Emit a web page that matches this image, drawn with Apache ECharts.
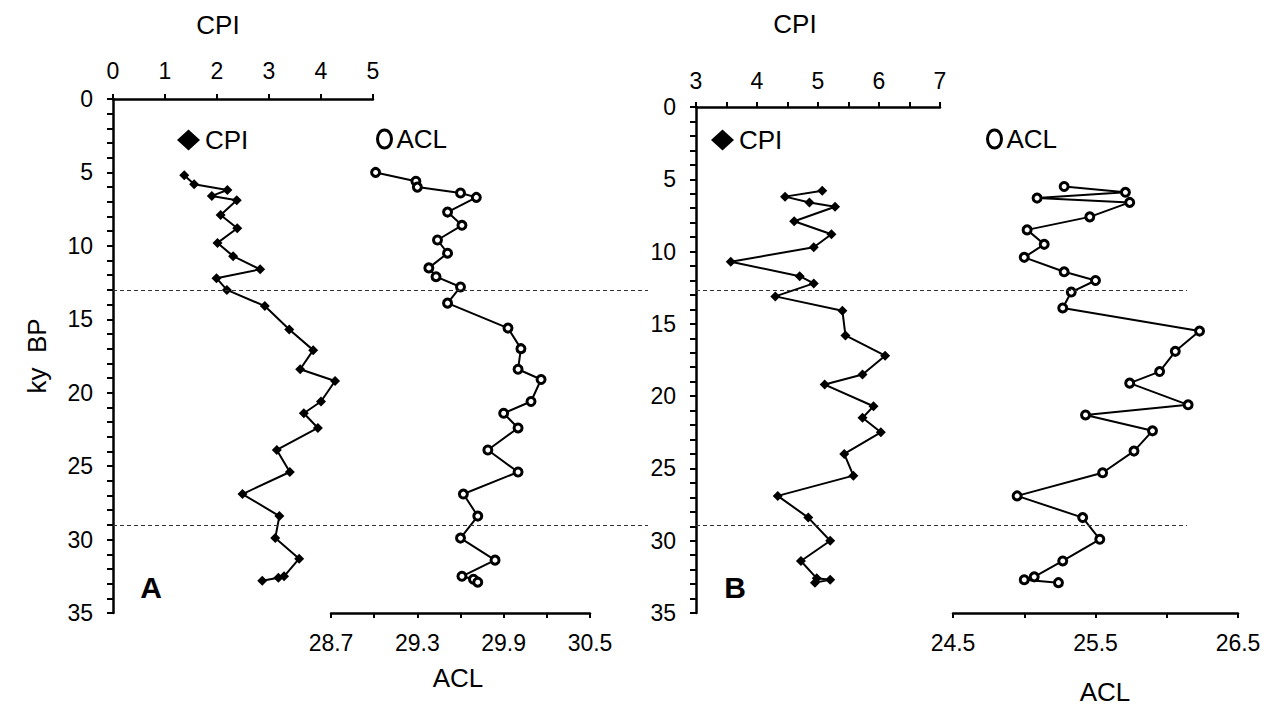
<!DOCTYPE html>
<html>
<head>
<meta charset="utf-8">
<title>CPI and ACL vs age</title>
<script src="https://cdn.jsdelivr.net/npm/echarts@6/dist/echarts.min.js"></script>
<style>
  html, body { margin: 0; padding: 0; background: #fff; }
  #chart { width: 1268px; height: 710px; }
</style>
</head>
<body>
<div id="chart"></div>
<script>
// panel A (ky BP depth, CPI and ACL)
const aCpiDepth = [5.2, 5.8, 6.2, 6.6, 6.9, 7.9, 8.8, 9.8, 10.7, 11.6, 12.2, 13.0, 14.1, 15.7, 17.1, 18.4, 19.2, 20.6, 21.4, 22.4, 23.9, 25.4, 26.9, 28.4, 29.9, 31.3, 32.5, 32.6, 32.8];
const aCpi = [1.37, 1.56, 2.20, 1.90, 2.38, 2.07, 2.39, 2.01, 2.31, 2.83, 1.99, 2.19, 2.92, 3.39, 3.85, 3.60, 4.27, 4.00, 3.67, 3.94, 3.15, 3.40, 2.49, 3.20, 3.12, 3.58, 3.29, 3.18, 2.87];
const aAclDepth = [5.0, 5.6, 6.0, 6.4, 6.7, 7.7, 8.6, 9.6, 10.5, 11.5, 12.1, 12.8, 13.9, 15.6, 17.0, 18.4, 19.1, 20.6, 21.4, 22.4, 23.9, 25.4, 26.9, 28.4, 29.9, 31.4, 32.5, 32.7, 32.9];
const aAcl = [29.01, 29.29, 29.30, 29.60, 29.71, 29.51, 29.61, 29.44, 29.51, 29.38, 29.43, 29.60, 29.51, 29.93, 30.02, 30.00, 30.16, 30.09, 29.90, 30.00, 29.79, 30.00, 29.62, 29.72, 29.60, 29.84, 29.61, 29.69, 29.72];

// panel B
const bCpiDepth = [5.8, 6.2, 6.6, 6.9, 7.9, 8.8, 9.7, 10.7, 11.7, 12.2, 13.1, 14.1, 15.8, 17.2, 18.5, 19.2, 20.7, 21.5, 22.5, 24.0, 25.5, 26.9, 28.4, 30.0, 31.4, 32.6, 32.7, 32.9];
const bCpi = [5.07, 4.46, 4.86, 5.28, 4.61, 5.22, 4.93, 3.57, 4.70, 4.93, 4.30, 5.40, 5.45, 6.10, 5.73, 5.11, 5.91, 5.73, 6.03, 5.43, 5.58, 4.34, 4.84, 5.20, 4.72, 4.98, 5.20, 4.95];
const bAclDepth = [5.5, 5.9, 6.3, 6.6, 7.6, 8.5, 9.5, 10.4, 11.4, 12.0, 12.8, 13.9, 15.5, 16.9, 18.3, 19.1, 20.6, 21.3, 22.4, 23.8, 25.3, 26.9, 28.4, 29.9, 31.4, 32.5, 32.7, 32.9];
const bAcl = [25.28, 25.71, 25.09, 25.74, 25.46, 25.02, 25.14, 25.00, 25.28, 25.50, 25.33, 25.27, 26.23, 26.06, 25.95, 25.74, 26.15, 25.43, 25.90, 25.77, 25.55, 24.95, 25.41, 25.53, 25.27, 25.07, 25.00, 25.24];

// boundaries (ky BP) and axis ticks
const boundaries = [13, 29];
const aAclTicks = [28.7, 29.0, 29.3, 29.6, 29.9, 30.2, 30.5];
const aAclLabels = [28.7, 29.3, 29.9, 30.5];

const FONT = '"Liberation Sans", Arial, sans-serif';
const OVAL = 'path://M7,0 C10.9,0 14,4 14,9 C14,14 10.9,18 7,18 C3.1,18 0,14 0,9 C0,4 3.1,0 7,0 Z';

function pairs( xs, ys )
{
  return xs.map( ( x, i ) => [ x, ys[ i ] ] );
}

function depthAxis( idx, show )
{
  return {
    gridIndex: idx, type: 'value', inverse: true, min: 0, max: 35, interval: 1,
    show: show,
    axisLine: { onZero: false, lineStyle: { color: '#000', width: 2.5 } },
    axisTick: { length: 6, lineStyle: { color: '#000', width: 2 } },
    axisLabel: {
      margin: 20, fontSize: 23, fontFamily: FONT, color: '#000',
      formatter: v => ( v % 5 === 0 ? String( v ) : '' )
    },
    splitLine: { show: false }
  };
}

const axisBase = {
  type: 'value',
  axisLine: { onZero: false, lineStyle: { color: '#000', width: 2.5 } },
  axisTick: { length: 5, lineStyle: { color: '#000', width: 2 } },
  splitLine: { show: false }
};
const labelBase = { fontSize: 23, fontFamily: FONT, color: '#000' };

let cpiStyle = {
  type: 'line', name: 'CPI', symbol: 'diamond', symbolSize: 10,
  lineStyle: { color: '#000', width: 2 }, itemStyle: { color: '#000' }
};
let aclStyle = {
  type: 'line', name: 'ACL', symbol: 'circle', symbolSize: 8,
  lineStyle: { color: '#000', width: 2 },
  itemStyle: { color: '#fff', borderColor: '#000', borderWidth: 3 }
};
let dashStyle = {
  type: 'line', data: [], silent: true,
  markLine: {
    symbol: 'none', silent: true, label: { show: false },
    lineStyle: { color: '#333', width: 1, type: [ 4, 3 ] },
    data: boundaries.map( b => ( { yAxis: b } ) )
  }
};

function legend( name, left, icon, w, h, top )
{
  return {
    data: [ name ], left: left, top: top, padding: 0, selectedMode: false,
    icon: icon, itemWidth: w, itemHeight: h, itemGap: 5,
    itemStyle: icon === OVAL ? { borderWidth: 3 } : {},
    textStyle: { fontSize: 26, fontFamily: FONT, color: '#000' }
  };
}

function label( text, x, y, font )
{
  return {
    type: 'text', x: x, y: y,
    style: { text: text, font: font || ( '26px ' + FONT ), fill: '#000', align: 'center', verticalAlign: 'middle' }
  };
}

let myChart = echarts.init( document.getElementById( 'chart' ), null, { renderer: 'svg' } );
let option = {
  animation: false,
  backgroundColor: '#fff',
  grid: [
    { left: 113, top: 99, width: 535, height: 514, outerBoundsMode: 'none' },
    { left: 113, top: 99, width: 260, height: 514, outerBoundsMode: 'none' },
    { left: 331, top: 99, width: 259, height: 514, outerBoundsMode: 'none' },
    { left: 696, top: 99, width: 491, height: 514, outerBoundsMode: 'none' },
    { left: 696, top: 107, width: 244, height: 506, outerBoundsMode: 'none' },
    { left: 953, top: 107, width: 285, height: 506, outerBoundsMode: 'none' }
  ],
  xAxis: [
    Object.assign( {}, axisBase, { gridIndex: 0, min: 0, max: 1, show: false } ),
    Object.assign( {}, axisBase, {
      gridIndex: 1, position: 'top', min: 0, max: 5, interval: 1,
      axisLabel: Object.assign( { margin: 17 }, labelBase )
    } ),
    Object.assign( {}, axisBase, {
      gridIndex: 2, position: 'bottom', min: 28.7, max: 30.5,
      axisTick: { length: 5, lineStyle: { color: '#000', width: 2 }, customValues: aAclTicks },
      axisLabel: Object.assign( { margin: 18, customValues: aAclLabels, formatter: v => v.toFixed( 1 ) }, labelBase )
    } ),
    Object.assign( {}, axisBase, { gridIndex: 3, min: 0, max: 1, show: false } ),
    Object.assign( {}, axisBase, {
      gridIndex: 4, position: 'top', min: 3, max: 7, interval: 0.5,
      axisLabel: Object.assign( { margin: 15, formatter: v => ( v % 1 === 0 ? String( v ) : '' ) }, labelBase )
    } ),
    Object.assign( {}, axisBase, {
      gridIndex: 5, position: 'bottom', min: 24.5, max: 26.5, interval: 0.5,
      axisLabel: Object.assign( {
        margin: 18,
        formatter: v => ( Math.abs( v - Math.floor( v ) - 0.5 ) < 1e-6 ? v.toFixed( 1 ) : '' )
      }, labelBase )
    } )
  ],
  yAxis: [
    depthAxis( 0, false ),
    Object.assign( depthAxis( 1, true ), {
      name: 'ky  BP', nameLocation: 'middle', nameGap: 63, nameRotate: 90,
      nameTextStyle: { fontSize: 26, fontFamily: FONT, color: '#000' }
    } ),
    depthAxis( 2, false ),
    depthAxis( 3, false ),
    depthAxis( 4, true ),
    depthAxis( 5, false )
  ],
  legend: [
    legend( 'CPI', 177, 'diamond', 23, 21, 127 ),
    legend( 'ACL', 376, OVAL, 14, 18, 126 ),
    legend( 'CPI', 711, 'diamond', 23, 21, 127 ),
    legend( 'ACL', 986, OVAL, 14, 18, 126 )
  ],
  graphic: [
    label( 'CPI', 218, 25 ),
    label( 'ACL', 458, 678 ),
    label( 'CPI', 795, 24 ),
    label( 'ACL', 1105, 692 ),
    label( 'A', 151, 587, 'bold 30px ' + FONT ),
    label( 'B', 735, 587, 'bold 30px ' + FONT )
  ],
  series: [
    Object.assign( {}, dashStyle, { xAxisIndex: 0, yAxisIndex: 0 } ),
    Object.assign( {}, cpiStyle, { xAxisIndex: 1, yAxisIndex: 1, data: pairs( aCpi, aCpiDepth ) } ),
    Object.assign( {}, aclStyle, { xAxisIndex: 2, yAxisIndex: 2, data: pairs( aAcl, aAclDepth ) } ),
    Object.assign( {}, dashStyle, { xAxisIndex: 3, yAxisIndex: 3 } ),
    Object.assign( {}, cpiStyle, { xAxisIndex: 4, yAxisIndex: 4, data: pairs( bCpi, bCpiDepth ) } ),
    Object.assign( {}, aclStyle, { xAxisIndex: 5, yAxisIndex: 5, data: pairs( bAcl, bAclDepth ) } )
  ]
};
myChart.setOption( option );
window.addEventListener( 'resize', function ()
{
  myChart.resize();
} );
</script>
</body>
</html>
